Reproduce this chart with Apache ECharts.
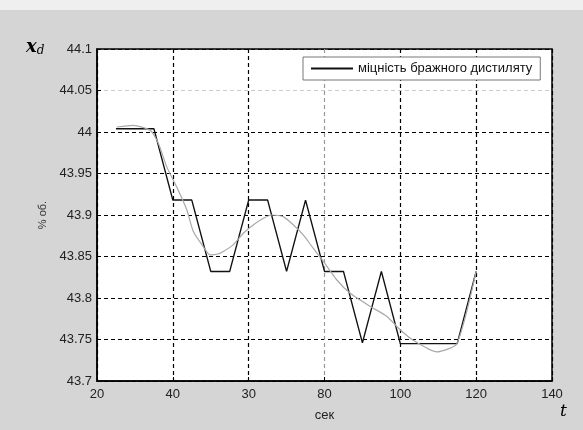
<!DOCTYPE html>
<html><head><meta charset="utf-8">
<script src="https://cdn.jsdelivr.net/npm/echarts@6/dist/echarts.min.js"></script>
<style>
html,body{margin:0;padding:0;background:#d5d5d5;}
#top{position:absolute;left:0;top:0;width:583px;height:10px;background:#efefef;}
#c{position:absolute;left:0;top:0;width:583px;height:430px;}
</style></head>
<body><div id="top"></div><div id="c"></div>
<script>
// measured signal (black)
const tBlack = [25, 30, 35, 40, 45, 50, 55, 60, 65, 70, 75, 80, 85, 90, 95, 100, 105, 110, 115, 120];
const vBlack = [44.004, 44.004, 44.004, 43.918, 43.918, 43.832, 43.832, 43.918, 43.918, 43.832, 43.918, 43.832, 43.832, 43.746, 43.832, 43.745, 43.745, 43.745, 43.745, 43.832];
// smoothed signal (grey)
const tGrey = [25.2, 29.5, 34.0, 36.2, 38.4, 41.0, 43.7, 45.4, 48.0, 49.8, 51.9, 53.3, 55.9, 58.6, 61.2, 63.9, 66.1, 69.1, 71.8, 74.4, 77.0, 79.7, 83.2, 86.7, 92.0, 96.4, 99.9, 103.4, 109.6, 114.9, 120];
const vGrey = [44.006, 44.008, 44.002, 43.986, 43.958, 43.934, 43.906, 43.880, 43.862, 43.852, 43.853, 43.856, 43.864, 43.878, 43.888, 43.896, 43.900, 43.898, 43.888, 43.876, 43.860, 43.844, 43.822, 43.806, 43.790, 43.778, 43.762, 43.749, 43.735, 43.745, 43.832];
const xTickValues = [20, 40, 60, 80, 100, 120, 140];
const xTickLabels = ["20", "40", "30", "80", "100", "120", "140"];
const yTickLabels = ["43.7", "43.75", "43.8", "43.85", "43.9", "43.95", "44", "44.05", "44.1"];
const seriesName = "міцність бражного дистиляту";

const pairs = (ts, vs) => ts.map((t, i) => [t, vs[i]]);
const font = "'Liberation Sans', Arial, sans-serif";
const chart = echarts.init(document.getElementById('c'));
chart.setOption({
  animation: false,
  backgroundColor: 'transparent',
  grid: {left: 97, top: 49, right: 31, bottom: 49, show: true, backgroundColor: '#fff', borderColor: '#000', borderWidth: 1.5},
  legend: {
    data: [seriesName], left: 303, top: 57, width: 243, height: 24,
    backgroundColor: '#fff', borderColor: '#777', borderWidth: 1, borderRadius: 0,
    padding: [5, 8, 5, 8], itemWidth: 42, itemHeight: 2, icon: 'rect', itemGap: 4,
    textStyle: {fontFamily: font, fontSize: 13, color: '#111'}
  },
  xAxis: {
    type: 'value', min: 20, max: 140, interval: 20,
    name: 'сек', nameLocation: 'middle', nameGap: 28,
    nameTextStyle: {fontFamily: font, fontSize: 13, color: '#222'},
    axisLine: {show: true, lineStyle: {color: '#000', width: 1.5}},
    axisTick: {show: true, inside: true, length: 4, lineStyle: {color: '#000'}},
    axisLabel: {fontFamily: font, fontSize: 13, color: '#222', margin: 7,
      formatter: v => { const i = xTickValues.indexOf(Math.round(v)); return i >= 0 ? xTickLabels[i] : ''; }},
    splitLine: {show: true, lineStyle: {color: ['#000', '#000', '#000', '#999', '#000', '#000', '#000'], type: [4, 3], width: 1.2}}
  },
  yAxis: {
    type: 'value', min: 43.7, max: 44.1, interval: 0.05,
    name: '% об.', nameLocation: 'middle', nameGap: 48, nameRotate: 90,
    nameTextStyle: {fontFamily: font, fontSize: 11, color: '#333'},
    axisLine: {show: true, lineStyle: {color: '#000', width: 1.5}},
    axisTick: {show: true, inside: true, length: 4, lineStyle: {color: '#000'}},
    axisLabel: {fontFamily: font, fontSize: 13, color: '#222', margin: 5,
      formatter: v => { const i = Math.round((v - 43.7) / 0.05); return yTickLabels[i] || ''; }},
    splitLine: {show: true, lineStyle: {color: ['#000', '#000', '#000', '#000', '#000', '#000', '#000', '#ccc', '#000'], type: [4, 3], width: 1.2}}
  },
  series: [
    {name: seriesName, type: 'line', data: pairs(tBlack, vBlack), symbol: 'none', lineStyle: {color: '#111', width: 1.4}, itemStyle: {color: '#111'}, z: 3},
    {name: 'smooth', type: 'line', data: pairs(tGrey, vGrey), symbol: 'none', smooth: 0.2, lineStyle: {color: '#a9a9a9', width: 1.2}, itemStyle: {color: '#a9a9a9'}, z: 4}
  ],
  graphic: [
    {type: 'text', left: 26, top: 38, style: {text: '{x|x}{d|d}', rich: {
      x: {fontFamily: "'DejaVu Serif', serif", fontStyle: 'italic', fontWeight: 'bold', fontSize: 18, fill: '#000'},
      d: {fontFamily: "'DejaVu Serif', serif", fontStyle: 'italic', fontSize: 12, fill: '#000', padding: [8, 0, 0, 0]}}}},
    {type: 'text', left: 560, top: 403, style: {text: 't', fontFamily: "'DejaVu Serif', serif", fontStyle: 'italic', fontSize: 17, fill: '#000'}}
  ]
});
</script></body></html>
